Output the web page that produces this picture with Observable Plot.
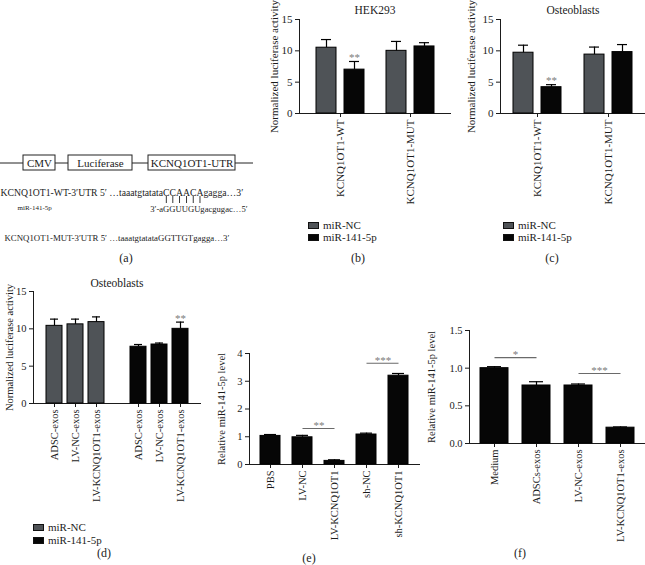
<!DOCTYPE html>
<html><head><meta charset="utf-8">
<script src="https://cdn.jsdelivr.net/npm/d3@7"></script>
<script src="https://cdn.jsdelivr.net/npm/@observablehq/plot@0.6"></script>
<style>
body{margin:0;background:#fff;}
#fig{position:relative;width:645px;height:565px;overflow:hidden;font-family:"Liberation Serif","Times New Roman",serif;color:#1b1b1b;background:#fff;}
.panel{position:absolute;}
.cap{position:absolute;transform:translate(-50%,-50%);font-size:12px;white-space:nowrap;}
.legend{position:absolute;font-size:11px;font-family:"Liberation Serif","Times New Roman",serif;}
.legend div{height:12px;line-height:12px;white-space:nowrap;}
.legend span.sw{display:inline-block;width:11px;height:7px;margin-right:4px;vertical-align:middle;box-sizing:border-box;border:1px solid #111;position:relative;top:-1px;}
</style></head><body><div id="fig"></div>
<script>
// ---------------- data ----------------
const seriesNames = ["miR-NC", "miR-141-5p"];
const constructGroups = ["KCNQ1OT1-WT", "KCNQ1OT1-MUT"];
const lucLabel = "Normalized luciferase activity";
const lucTicks = [0, 5, 10, 15];
// (b) HEK293
const hekTitle = "HEK293";
const hekNC = [10.5, 10.0];
const hekNCsd = [1.3, 1.5];
const hek141 = [7.0, 10.7];
const hek141sd = [1.3, 0.6];
const hekSig = ["**", ""];
// (c) Osteoblasts
const obTitle = "Osteoblasts";
const obNC = [9.7, 9.4];
const obNCsd = [1.2, 1.2];
const ob141 = [4.2, 9.8];
const ob141sd = [0.4, 1.2];
const obSig = ["**", ""];
// (d) Osteoblasts with exosomes
const exoTitle = "Osteoblasts";
const exoGroups = ["ADSC-exos", "LV-NC-exos", "LV-KCNQ1OT1-exos"];
const exoNC = [10.4, 10.6, 10.9];
const exoNCsd = [0.9, 0.7, 0.7];
const exo141 = [7.6, 7.9, 10.0];
const exo141sd = [0.3, 0.2, 0.9];
const exoSig141 = ["", "", "**"];
// (e)
const mirLabel = "Relative miR-141-5p level";
const eGroups = ["PBS", "LV-NC", "LV-KCNQ1OT1", "sh-NC", "sh-KCNQ1OT1"];
const eValues = [1.03, 0.98, 0.13, 1.08, 3.2];
const eSd = [0.05, 0.07, 0.04, 0.05, 0.08];
const eTicks = [0, 1, 2, 3, 4];
const eBrackets = [
  {from: "LV-NC", to: "LV-KCNQ1OT1", level: 1.3, label: "**"},
  {from: "sh-NC", to: "sh-KCNQ1OT1", level: 3.65, label: "***"}
];
// (f)
const fGroups = ["Medium", "ADSCs-exos", "LV-NC-exos", "LV-KCNQ1OT1-exos"];
const fValues = [1.0, 0.77, 0.77, 0.21];
const fSd = [0.02, 0.05, 0.02, 0.01];
const fTicks = [0, 0.5, 1.0, 1.5];
const fBrackets = [
  {from: "Medium", to: "ADSCs-exos", level: 1.14, label: "*"},
  {from: "LV-NC-exos", to: "LV-KCNQ1OT1-exos", level: 0.93, label: "***"}
];
// (a) construct schematic (relative segment lengths; unnamed = backbone line)
const constructParts = [
  {name: "", len: 23}, {name: "CMV", len: 32}, {name: "", len: 13},
  {name: "Luciferase", len: 64}, {name: "", len: 16},
  {name: "KCNQ1OT1-UTR", len: 87}, {name: "", len: 18}
];
const wtPrefix = "KCNQ1OT1-WT-3′UTR 5′ …taaatgtatata";
const wtSeed = "CCAACA";
const wtSuffix = "gagga…3′";
const mirName = "miR-141-5p";
const mirPrefix = "3′-a";
const mirSeed = "GGUUGU";
const mirSuffix = "gacgugac…5′";
const mutLine = "KCNQ1OT1-MUT-3′UTR 5′ …taaatgtatataGGTTGTgagga…3′";
const captions = ["(a)", "(b)", "(c)", "(d)", "(e)", "(f)"];

// ---------------- helpers ----------------
const FONT = "'Liberation Serif','Times New Roman',serif";
const GRAY = "#4f5357", BLACK = "#060606", STAR = "#7a7a7a";
const fig = document.getElementById("fig");
const svgStyle = fs => `font-family:${FONT};font-size:${fs}px;background:transparent;overflow:visible;color:#1b1b1b;`;
function place(el, left, top, width) {
  const d = document.createElement("div");
  d.className = "panel";
  d.style.left = left + "px"; d.style.top = top + "px";
  if (width) d.style.width = width + "px";
  d.appendChild(el); fig.appendChild(d); return d;
}
function caption(text, x, y) {
  const d = document.createElement("div");
  d.className = "cap"; d.textContent = text;
  d.style.left = x + "px"; d.style.top = y + "px";
  fig.appendChild(d);
}
function legend(x, y, rowH) {
  const d = document.createElement("div");
  d.className = "legend"; d.style.left = x + "px"; d.style.top = y + "px";
  seriesNames.forEach((s, i) => {
    const r = document.createElement("div");
    r.style.height = rowH + "px"; r.style.lineHeight = rowH + "px";
    const sw = document.createElement("span"); sw.className = "sw";
    sw.style.background = i === 0 ? GRAY : BLACK;
    r.appendChild(sw); r.appendChild(document.createTextNode(s));
    d.appendChild(r);
  });
  fig.appendChild(d);
}

// ---------------- (b) & (c) ----------------
function pairedPanel({title, nc, ncsd, m, msd, sig, left, width, marginLeft, marginRight, padIn, padOut, labelOffset, fs}) {
  const rows = constructGroups.flatMap((g, i) => [
    {group: g, series: seriesNames[0], value: nc[i], sd: ncsd[i], sig: ""},
    {group: g, series: seriesNames[1], value: m[i], sd: msd[i], sig: sig[i]}
  ]);
  const isNC = d => d.series === seriesNames[0];
  const isM = d => d.series === seriesNames[1];
  const top = d => d.value + d.sd;
  const chart = Plot.plot({
    width, height: 205, marginLeft, marginRight, marginTop: 19, marginBottom: 92,
    style: svgStyle(fs),
    x: {domain: constructGroups, paddingInner: padIn, paddingOuter: padOut, line: true, tickSize: 4, tickPadding: 2, tickRotate: -90, label: null},
    y: {domain: [0, 15], ticks: lucTicks, line: true, tickSize: 4, tickPadding: 3, label: lucLabel, labelAnchor: "center", labelOffset, labelArrow: "none"},
    color: {domain: seriesNames, range: [GRAY, BLACK]},
    marks: [
      Plot.barY(rows, {filter: isNC, x: "group", y: "value", fill: "series", stroke: "#000", strokeWidth: 1, insetRight: 28}),
      Plot.barY(rows, {filter: isM, x: "group", y: "value", fill: "series", stroke: "#000", strokeWidth: 1, insetLeft: 28}),
      Plot.ruleX(rows, {filter: isNC, x: "group", y1: "value", y2: top, dx: -14, stroke: "#000", strokeWidth: 1.2}),
      Plot.ruleX(rows, {filter: isM, x: "group", y1: "value", y2: top, dx: 14, stroke: "#000", strokeWidth: 1.2}),
      Plot.tickY(rows, {filter: isNC, x: "group", y: top, insetLeft: 5, insetRight: 33, stroke: "#000", strokeWidth: 1.2}),
      Plot.tickY(rows, {filter: isM, x: "group", y: top, insetLeft: 33, insetRight: 5, stroke: "#000", strokeWidth: 1.2}),
      Plot.text(rows, {filter: d => d.sig, x: "group", y: top, text: "sig", dx: 14, dy: -4, fill: STAR, fontSize: 11}),
      Plot.text([title], {frameAnchor: "top", text: d => d, dy: -14, fontSize: 11.5})
    ]
  });
  place(chart, left, 0, width);
}
pairedPanel({title: hekTitle, nc: hekNC, ncsd: hekNCsd, m: hek141, msd: hek141sd, sig: hekSig,
  left: 270, width: 190, marginLeft: 29, marginRight: 10, padIn: 0.32, padOut: 0.23, labelOffset: 29, fs: 11});
pairedPanel({title: obTitle, nc: obNC, ncsd: obNCsd, m: ob141, msd: ob141sd, sig: obSig,
  left: 460, width: 185, marginLeft: 40, marginRight: 0, padIn: 0.324, padOut: 0.183, labelOffset: 33, fs: 11});

// ---------------- (d) ----------------
{
  const spacer = " ";
  const rows = [
    ...exoGroups.map((g, i) => ({key: seriesNames[0] + "|" + g, series: seriesNames[0], value: exoNC[i], sd: exoNCsd[i], sig: ""})),
    ...exoGroups.map((g, i) => ({key: seriesNames[1] + "|" + g, series: seriesNames[1], value: exo141[i], sd: exo141sd[i], sig: exoSig141[i]}))
  ];
  const keys = rows.map(d => d.key);
  const domain = [...keys.slice(0, exoGroups.length), spacer, ...keys.slice(exoGroups.length)];
  const top = d => d.value + d.sd;
  const chart = Plot.plot({
    width: 215, height: 250, marginLeft: 33, marginRight: 15, marginTop: 26, marginBottom: 112,
    style: svgStyle(10.5),
    x: {domain, ticks: keys, tickFormat: k => k.split("|")[1], paddingInner: 0.25, paddingOuter: 0.52, line: true, tickSize: 4, tickPadding: 2, tickRotate: -90, label: null},
    y: {domain: [0, 15], ticks: lucTicks, line: true, tickSize: 4, tickPadding: 3, label: lucLabel, labelAnchor: "center", labelOffset: 28, labelArrow: "none"},
    color: {domain: seriesNames, range: [GRAY, BLACK]},
    marks: [
      Plot.barY(rows, {x: "key", y: "value", fill: "series", stroke: "#000", strokeWidth: 1}),
      Plot.ruleX(rows, {x: "key", y1: "value", y2: top, stroke: "#000", strokeWidth: 1.2}),
      Plot.tickY(rows, {x: "key", y: top, insetLeft: 4, insetRight: 4, stroke: "#000", strokeWidth: 1.2}),
      Plot.text(rows, {filter: d => d.sig, x: "key", y: top, text: "sig", dy: -4, fill: STAR, fontSize: 11}),
      Plot.text([exoTitle], {frameAnchor: "top", text: d => d, dy: -13, fontSize: 11.5})
    ]
  });
  place(chart, 0, 265, 215);
}

// ---------------- (e) & (f) ----------------
function singlePanel({groups, values, sd, brackets, ticks, yMax, tickFormat, left, top, width, height, marginLeft, marginRight, marginTop, marginBottom, padIn, padOut, labelOffset, capInset, starDx, fs}) {
  const rows = groups.map((g, i) => ({group: g, value: values[i], sd: sd[i]}));
  const up = d => d.value + d.sd;
  const chart = Plot.plot({
    width, height, marginLeft, marginRight, marginTop, marginBottom,
    style: svgStyle(fs),
    x: {domain: groups, paddingInner: padIn, paddingOuter: padOut, line: true, tickSize: 4, tickPadding: 2, tickRotate: -90, label: null},
    y: {domain: [0, yMax], ticks, tickFormat, line: true, tickSize: 4, tickPadding: 3, label: mirLabel, labelAnchor: "center", labelOffset, labelArrow: "none"},
    marks: [
      Plot.barY(rows, {x: "group", y: "value", fill: BLACK, stroke: "#000"}),
      Plot.ruleX(rows, {x: "group", y1: "value", y2: up, stroke: "#000", strokeWidth: 1.2}),
      Plot.tickY(rows, {x: "group", y: up, insetLeft: capInset, insetRight: capInset, stroke: "#000", strokeWidth: 1.2}),
      Plot.link(brackets, {x1: "from", x2: "to", y1: "level", y2: "level", stroke: "#6a6a6a", strokeWidth: 1.1}),
      Plot.text(brackets, {x: "from", y: "level", text: "label", dx: starDx, dy: -3, fill: STAR, fontSize: 11})
    ]
  });
  place(chart, left, top, width);
}
singlePanel({groups: eGroups, values: eValues, sd: eSd, brackets: eBrackets, ticks: eTicks, yMax: 4, tickFormat: d3.format("d"),
  left: 220, top: 340, width: 210, height: 215, marginLeft: 29, marginRight: 11, marginTop: 13, marginBottom: 91,
  padIn: 0.36, padOut: 0.26, labelOffset: 32, capInset: 4, starDx: 16.5, fs: 10.5});
singlePanel({groups: fGroups, values: fValues, sd: fSd, brackets: fBrackets, ticks: fTicks, yMax: 1.5, tickFormat: d3.format(".1f"),
  left: 425, top: 320, width: 220, height: 218, marginLeft: 44, marginRight: 0, marginTop: 10, marginBottom: 95,
  padIn: 0.33, padOut: 0.245, labelOffset: 42, capInset: 7, starDx: 21, fs: 10.5});

// ---------------- (a) ----------------
{
  const ctx = document.createElement("canvas").getContext("2d");
  const measure = (s, fs) => { ctx.font = `${fs}px "Liberation Serif"`; return ctx.measureText(s).width; };
  const ends = d3.cumsum(constructParts, d => d.len);
  const parts = constructParts.map((d, i) => ({...d, x1: ends[i] - d.len, x2: ends[i]}));
  const total = ends[ends.length - 1];
  const rowsA = ["construct", "s1", "wt", "mir", "s2", "mut"];
  const fsWT = 9.7, fsMir = 8.6, fsMut = 8.8, fsName = 7;
  const seedStart = measure(wtPrefix, fsWT);
  const pairX = [...wtSeed].map((c, i) => measure(wtPrefix + wtSeed.slice(0, i), fsWT) + measure(c, fsWT) / 2);
  const mirStart = seedStart - measure(mirPrefix, fsMir);
  const W = 260;
  const chart = Plot.plot({
    width: W, height: 110, marginLeft: 0, marginRight: W - total, marginTop: 14.5, marginBottom: 5.5,
    style: svgStyle(11),
    x: {domain: [0, total], axis: null},
    y: {domain: rowsA, axis: null, padding: 0},
    marks: [
      Plot.ruleY(parts, {filter: d => !d.name, y: () => "construct", x1: "x1", x2: "x2", stroke: "#222", strokeWidth: 1}),
      Plot.barX(parts, {filter: d => d.name, y: () => "construct", x1: "x1", x2: "x2", fill: "white", stroke: "#222", strokeWidth: 1}),
      Plot.text(parts, {filter: d => d.name, y: () => "construct", x: d => (d.x1 + d.x2) / 2, text: "name", fontSize: 11}),
      Plot.text([wtPrefix + wtSeed + wtSuffix], {x: () => 0, y: () => "wt", text: d => d, textAnchor: "start", fontSize: fsWT}),
      Plot.tickX(pairX, {x: d => d, y: () => "mir", insetTop: -4, insetBottom: 12, stroke: "#222", strokeWidth: 0.9}),
      Plot.text([mirName], {x: () => 0, y: () => "mir", text: d => d, textAnchor: "start", dx: 17, fontSize: fsName}),
      Plot.text([mirPrefix + mirSeed + mirSuffix], {x: () => mirStart, y: () => "mir", text: d => d, textAnchor: "start", dy: 1, fontSize: fsMir}),
      Plot.text([mutLine], {x: () => 0, y: () => "mut", text: d => d, textAnchor: "start", dx: 4, fontSize: fsMut})
    ]
  });
  place(chart, 0, 140, W);
}

// ---------------- captions & legends ----------------
const capPos = [[126, 258], [358, 258], [552, 258], [104, 553], [309, 558], [520, 553]];
captions.forEach((c, i) => caption(c, capPos[i][0], capPos[i][1]));
legend(308, 219, 12);
legend(503, 219, 12);
legend(33, 521, 13);
</script></body></html>
